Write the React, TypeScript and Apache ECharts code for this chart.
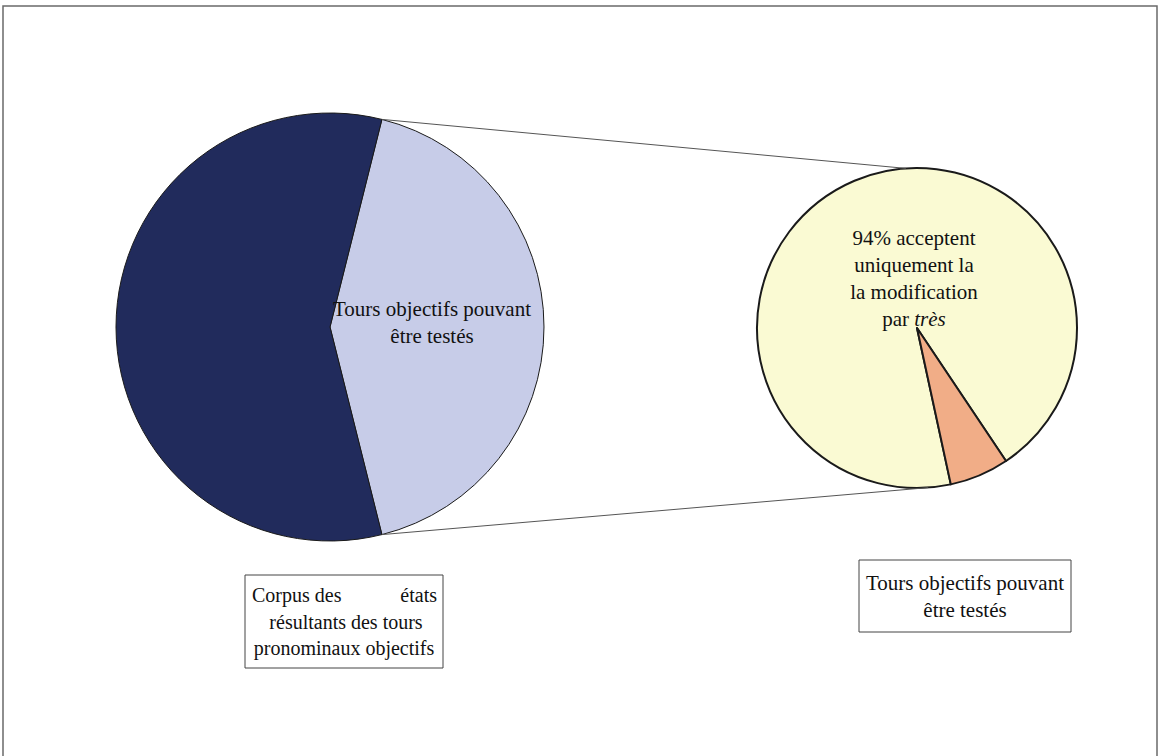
import React, { useEffect, useRef } from "react";
import * as echarts from "echarts";

// Main pie: corpus split
const mainCategories = ["Tours objectifs pouvant être testés", "Autres tours"];
const mainValues = [42.2, 57.8];
const mainColors = ["#c7cce8", "#212b5c"];

// Secondary pie: detail of testable turns
const subCategories = ["94% acceptent uniquement la modification par très", "Autres"];
const subValues = [94, 6];
const subColors = ["#fafad3", "#f1ad87"];

const SERIF = "'Liberation Serif', 'Times New Roman', serif";

export default function App() {
  const ref = useRef<HTMLDivElement>(null);

  useEffect(() => {
    if (!ref.current) return;
    const chart = echarts.init(ref.current, null, { renderer: "svg" });

    const c1 = [330, 327];
    const r1 = 214;
    const c2 = [917, 328];
    const r2 = 160;

    const total1 = mainValues.reduce((a, b) => a + b, 0);
    const half = (mainValues[0] / total1) * 180; // degrees, split symmetric about 3 o'clock
    const startMain = half;
    const rad = (d: number) => (d * Math.PI) / 180;
    const topSplit = [c1[0] + r1 * Math.cos(rad(half)), c1[1] - r1 * Math.sin(rad(half))];
    const botSplit = [c1[0] + r1 * Math.cos(rad(-half)), c1[1] - r1 * Math.sin(rad(-half))];
    const topSub = [c2[0] + r2 * Math.cos(rad(94)), c2[1] - r2 * Math.sin(rad(94))];
    const botSub = [c2[0] + r2 * Math.cos(rad(-86)), c2[1] - r2 * Math.sin(rad(-86))];

    const textStyle = (t: string, x: number, y: number, size = 21, align = "center") => ({
      type: "text",
      x,
      y,
      z: 100,
      style: {
        text: t,
        fontFamily: SERIF,
        fontSize: size,
        fill: "#111111",
        align,
        verticalAlign: "middle",
        lineHeight: 27,
      },
    });

    chart.setOption({
      animation: false,
      backgroundColor: "#ffffff",
      series: [
        {
          type: "pie",
          center: c1,
          radius: r1,
          startAngle: startMain,
          clockwise: true,
          label: { show: false },
          labelLine: { show: false },
          silent: true,
          itemStyle: { borderColor: "#1a1a1a", borderWidth: 1 },
          data: mainCategories.map((n, i) => ({
            name: n,
            value: mainValues[i],
            itemStyle: { color: mainColors[i] },
          })),
        },
        {
          type: "pie",
          center: c2,
          radius: r2,
          startAngle: 282.2,
          clockwise: true,
          label: { show: false },
          labelLine: { show: false },
          silent: true,
          itemStyle: { borderColor: "#1a1a1a", borderWidth: 2 },
          data: subCategories.map((n, i) => ({
            name: n,
            value: subValues[i],
            itemStyle: { color: subColors[i] },
          })),
        },
      ],
      graphic: [
        {
          type: "rect",
          shape: { x: 3, y: 6, width: 1154, height: 770 },
          style: { fill: "none", stroke: "#6a6a6a", lineWidth: 1.5 },
          silent: true,
          z: 0,
        },
        {
          type: "line",
          shape: { x1: topSplit[0], y1: topSplit[1], x2: topSub[0], y2: topSub[1] },
          style: { stroke: "#555", lineWidth: 1 },
          z: 50,
        },
        {
          type: "line",
          shape: { x1: botSplit[0], y1: botSplit[1], x2: botSub[0], y2: botSub[1] },
          style: { stroke: "#555", lineWidth: 1 },
          z: 50,
        },
        textStyle("Tours objectifs pouvant\nêtre testés", 432, 322),
        {
          type: "text",
          x: 914,
          y: 278,
          z: 100,
          style: {
            text: "94% acceptent\nuniquement la\nla modification\npar {i|très}",
            fontFamily: SERIF,
            fontSize: 21,
            fill: "#111111",
            align: "center",
            verticalAlign: "middle",
            lineHeight: 27,
            rich: {
              i: { fontStyle: "italic", fontFamily: SERIF, fontSize: 21, fill: "#111111", lineHeight: 27 },
            },
          },
        },
        {
          type: "rect",
          shape: { x: 245, y: 575, width: 198, height: 93 },
          style: { fill: "#fff", stroke: "#444", lineWidth: 1 },
          z: 60,
        },
        textStyle("Corpus des", 252, 595, 20, "left"),
        textStyle("états", 437, 595, 20, "right"),
        textStyle("résultants des tours", 346, 622, 20),
        textStyle("pronominaux objectifs", 344, 648, 20),
        {
          type: "rect",
          shape: { x: 859, y: 560, width: 212, height: 72 },
          style: { fill: "#fff", stroke: "#444", lineWidth: 1 },
          z: 60,
        },
        textStyle("Tours objectifs pouvant\nêtre testés", 965, 596, 21),
      ],
    });

    return () => chart.dispose();
  }, []);

  return (
    <div
      ref={ref}
      style={{ position: "fixed", left: 0, top: 0, width: 1161, height: 756, background: "#fff" }}
    />
  );
}
